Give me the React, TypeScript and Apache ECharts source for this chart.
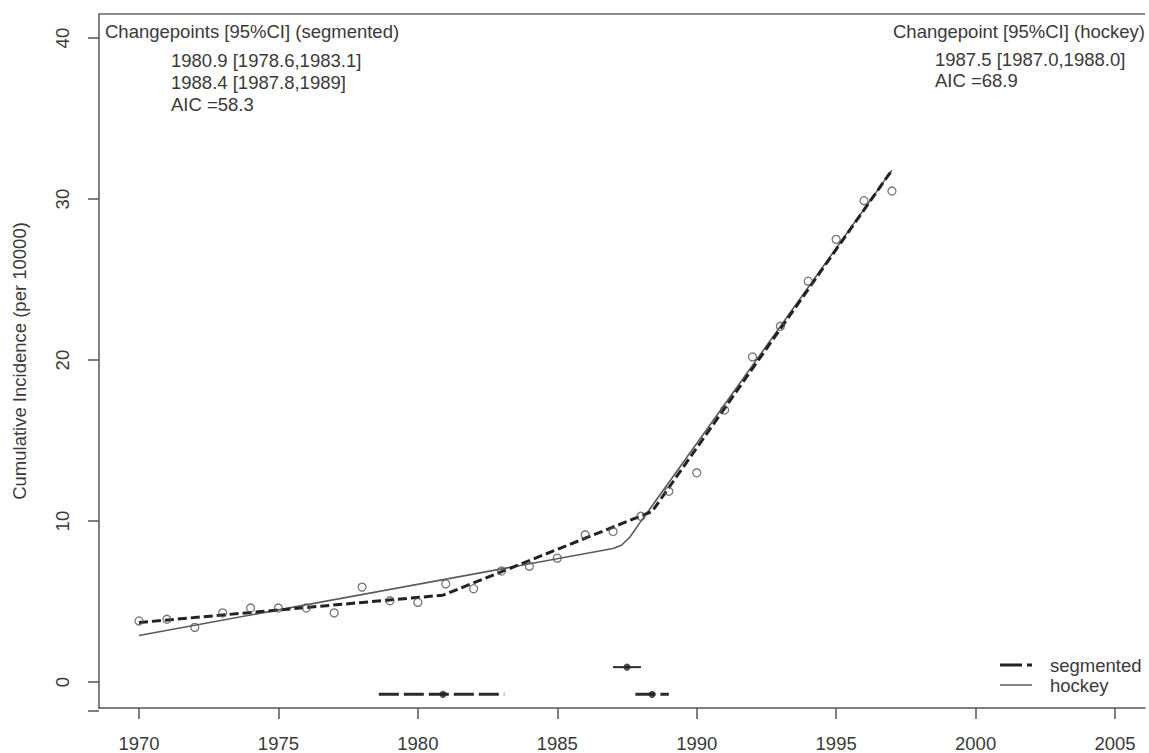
import React, { useEffect, useRef } from "react";
import * as echarts from "echarts";

// Observed cumulative incidence (per 10000), by year
const years = [1970, 1971, 1972, 1973, 1974, 1975, 1976, 1977, 1978, 1979, 1980, 1981, 1982, 1983,
  1984, 1985, 1986, 1987, 1988, 1989, 1990, 1991, 1992, 1993, 1994, 1995, 1996, 1997];
const incidence = [3.8, 3.9, 3.4, 4.3, 4.6, 4.6, 4.6, 4.3, 5.9, 5.05, 4.95, 6.1, 5.8, 6.9,
  7.2, 7.7, 9.15, 9.35, 10.3, 11.85, 13.0, 16.9, 20.2, 22.1, 24.9, 27.5, 29.9, 30.5];

// Segmented regression fit (two changepoints)
const segmentedFitYears = [1970, 1980.9, 1988.4, 1997];
const segmentedFitValues = [3.7, 5.4, 10.6, 31.8];

// Hockey-stick fit (one smooth changepoint)
const hockeyFitYears = [1970, 1987.0, 1987.3, 1987.6, 1988.0, 1988.3, 1997];
const hockeyFitValues = [2.9, 8.3, 8.5, 9.0, 10.0, 10.7, 31.8];

// Changepoints with 95% CI
const segmentedChangepoints = [1980.9, 1988.4];
const segmentedCiLow = [1978.6, 1987.8];
const segmentedCiHigh = [1983.1, 1989];
const segmentedCiLevel = -0.76;
const hockeyChangepoints = [1987.5];
const hockeyCiLow = [1987.0];
const hockeyCiHigh = [1988.0];
const hockeyCiLevel = 0.93;

// Axis ticks
const xTicks = [1970, 1975, 1980, 1985, 1990, 1995, 2000, 2005];
const yTicks = [0, 10, 20, 30, 40];

// Annotation texts
const segmentedTitle = "Changepoints [95%CI] (segmented)";
const segmentedLines = ["1980.9 [1978.6,1983.1]", "1988.4 [1987.8,1989]", "AIC =58.3"];
const hockeyTitle = "Changepoint [95%CI] (hockey)";
const hockeyLines = ["1987.5 [1987.0,1988.0]", "AIC =68.9"];

const FONT = "'Liberation Sans', Arial, sans-serif";
const FS = 18.5;
const TXT = "#3a3a3a";

export default function App() {
  const ref = useRef<HTMLDivElement>(null);
  useEffect(() => {
    if (!ref.current) return;
    const chart = echarts.init(ref.current, null, { renderer: "svg" });

    const ciSeries: any[] = [];
    segmentedChangepoints.forEach((cp, i) => {
      ciSeries.push({
        type: "line",
        name: "segmented CI " + (i + 1),
        data: [[segmentedCiLow[i], segmentedCiLevel], [segmentedCiHigh[i], segmentedCiLevel]],
        symbol: "none",
        lineStyle: { color: "#2a2a2a", width: 3, type: [20, 5] },
        silent: true,
      });
    });
    hockeyChangepoints.forEach((cp, i) => {
      ciSeries.push({
        type: "line",
        name: "hockey CI " + (i + 1),
        data: [[hockeyCiLow[i], hockeyCiLevel], [hockeyCiHigh[i], hockeyCiLevel]],
        symbol: "none",
        lineStyle: { color: "#2a2a2a", width: 2 },
        silent: true,
      });
    });

    const option: any = {
      animation: false,
      backgroundColor: "#ffffff",
      textStyle: { fontFamily: FONT },
      grid: { left: 99, top: 14, right: 4, bottom: 42, containLabel: false },
      xAxis: {
        type: "value",
        min: 1968.566,
        max: 2006.075,
        splitLine: { show: false },
        axisLine: { show: true, onZero: false, lineStyle: { color: "#555", width: 1.5 } },
        axisTick: { show: true, customValues: xTicks, length: 11, lineStyle: { color: "#555", width: 1.5 } },
        axisLabel: {
          customValues: xTicks,
          formatter: (v: number) => String(v),
          fontSize: FS,
          color: TXT,
          fontFamily: FONT,
          margin: 26,
        },
      },
      yAxis: {
        type: "value",
        min: -1.608,
        max: 41.497,
        name: "Cumulative Incidence (per 10000)",
        nameLocation: "middle",
        nameRotate: 90,
        nameGap: 70,
        nameTextStyle: { fontSize: FS, color: TXT, fontFamily: FONT },
        splitLine: { show: false },
        axisLine: { show: true, onZero: false, lineStyle: { color: "#555", width: 1.5 } },
        axisTick: { show: true, customValues: yTicks, length: 11, lineStyle: { color: "#555", width: 1.5 } },
        axisLabel: {
          customValues: yTicks,
          formatter: (v: number) => String(v),
          rotate: 90,
          fontSize: FS,
          color: TXT,
          fontFamily: FONT,
          margin: 27,
        },
      },
      series: [
        {
          type: "line",
          name: "hockey",
          data: hockeyFitYears.map((x, i) => [x, hockeyFitValues[i]]),
          symbol: "none",
          lineStyle: { color: "#5a5a5a", width: 1.6 },
          z: 2,
        },
        {
          type: "line",
          name: "segmented",
          data: segmentedFitYears.map((x, i) => [x, segmentedFitValues[i]]),
          symbol: "none",
          lineStyle: { color: "#222", width: 3, type: [9, 4] },
          z: 3,
        },
        {
          type: "scatter",
          name: "observed",
          data: years.map((y, i) => [y, incidence[i]]),
          symbol: "circle",
          symbolSize: 8,
          itemStyle: { color: "rgba(0,0,0,0)", borderColor: "#555", borderWidth: 1.3 },
          z: 4,
        },
        ...ciSeries,
        {
          type: "scatter",
          name: "segmented changepoints",
          data: segmentedChangepoints.map((x) => [x, segmentedCiLevel]),
          symbol: "circle",
          symbolSize: 7,
          itemStyle: { color: "#222" },
          z: 5,
        },
        {
          type: "scatter",
          name: "hockey changepoint",
          data: hockeyChangepoints.map((x) => [x, hockeyCiLevel]),
          symbol: "circle",
          symbolSize: 7,
          itemStyle: { color: "#222" },
          z: 5,
        },
      ],
      graphic: [
        // frame pieces (top border, bottom axis extension)
        { type: "line", shape: { x1: 99, y1: 14, x2: 1145, y2: 14 }, style: { stroke: "#666", lineWidth: 1.5 } },
        { type: "line", shape: { x1: 88, y1: 711, x2: 99, y2: 711 }, style: { stroke: "#555", lineWidth: 1.5 } },
        // segmented annotation
        { type: "text", x: 105, y: 31, style: { text: segmentedTitle, font: `${FS}px ${FONT}`, fill: TXT, verticalAlign: "middle", align: "left" } },
        ...segmentedLines.map((t, i) => ({
          type: "text", x: 171, y: 60 + i * 22,
          style: { text: t, font: `${FS}px ${FONT}`, fill: TXT, verticalAlign: "middle", align: "left" },
        })),
        // hockey annotation
        { type: "text", x: 893, y: 31, style: { text: hockeyTitle, font: `${FS}px ${FONT}`, fill: TXT, verticalAlign: "middle", align: "left" } },
        ...hockeyLines.map((t, i) => ({
          type: "text", x: 935, y: 59 + i * 21,
          style: { text: t, font: `${FS}px ${FONT}`, fill: TXT, verticalAlign: "middle", align: "left" },
        })),
        // legend
        { type: "line", shape: { x1: 1000, y1: 665, x2: 1032, y2: 665 }, style: { stroke: "#222", lineWidth: 3, lineDash: [22, 5] } },
        { type: "text", x: 1050, y: 665, style: { text: "segmented", font: `${FS}px ${FONT}`, fill: TXT, verticalAlign: "middle", align: "left" } },
        { type: "line", shape: { x1: 1000, y1: 685, x2: 1032, y2: 685 }, style: { stroke: "#666", lineWidth: 1.6 } },
        { type: "text", x: 1050, y: 685, style: { text: "hockey", font: `${FS}px ${FONT}`, fill: TXT, verticalAlign: "middle", align: "left" } },
      ],
    };
    chart.setOption(option);
    return () => chart.dispose();
  }, []);
  return (
    <div
      ref={ref}
      style={{ position: "absolute", left: 0, top: 0, width: 1149, height: 753, background: "#fff" }}
    />
  );
}
